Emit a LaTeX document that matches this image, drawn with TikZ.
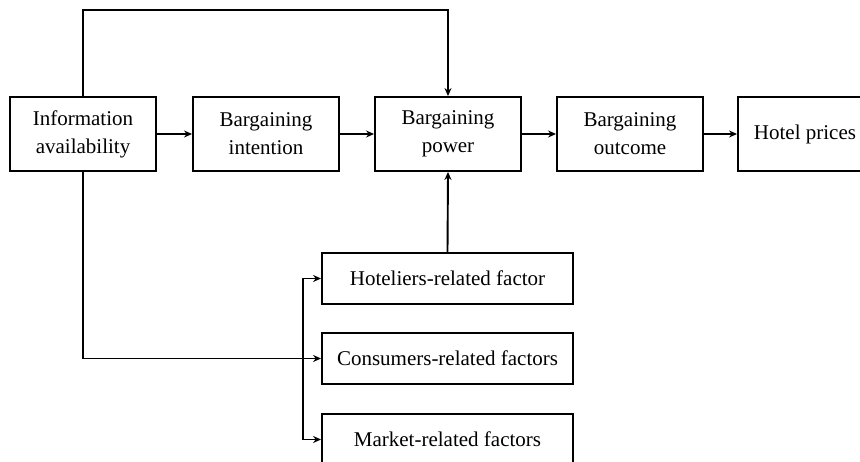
\documentclass[tikz,border=0pt]{standalone}
\usepackage{fontspec}
\setmainfont{Liberation Serif}
\usetikzlibrary{arrows.meta}
\begin{document}
\begin{tikzpicture}[x=1pt,y=-1pt,
  box/.style={draw, line width=1.9pt, minimum width=146pt, minimum height=74pt, align=center, inner sep=0pt,
    font=\fontsize{21}{28}\selectfont},
  fbox/.style={box, minimum width=251pt, minimum height=51pt},
  arr/.style={line width=1.9pt, -{Stealth[length=8pt,width=7pt]}}]
\clip (0,0) rectangle (860,462);
\useasboundingbox (0,0) rectangle (860,462);
\node[box] (info) at (83,134) {Information\\availability};
\node[box] (intent) at (266,134) {Bargaining\\intention};
\node[box] (power) at (448,134) {Bargaining\\power};
\node[box] (outcome) at (630,134) {Bargaining\\outcome};
\node[box, minimum width=134pt] (hotel) at (805,134) {Hotel prices};
\node[fbox] (hoteliers) at (447.5,278.5) {Hoteliers-related factor};
\node[fbox] (consumers) at (447.5,358.5) {Consumers-related factors};
\node[fbox] (market) at (447.5,439.5) {Market-related factors};
\coordinate (br) at (303,358.5);
\draw[arr] (info) -- (intent);
\draw[arr] (intent) -- (power);
\draw[arr] (power) -- (outcome);
\draw[arr] (outcome) -- (hotel);
\draw[arr] (info.north) -- ++(0,-86) -| (power.north);
\draw[arr] (info.south) |- (consumers.west);
\draw[arr] (br) |- (hoteliers.west);
\draw[arr] (br) |- (market.west);
\draw[arr] (hoteliers.north) -- (power.south);
\end{tikzpicture}
\end{document}
